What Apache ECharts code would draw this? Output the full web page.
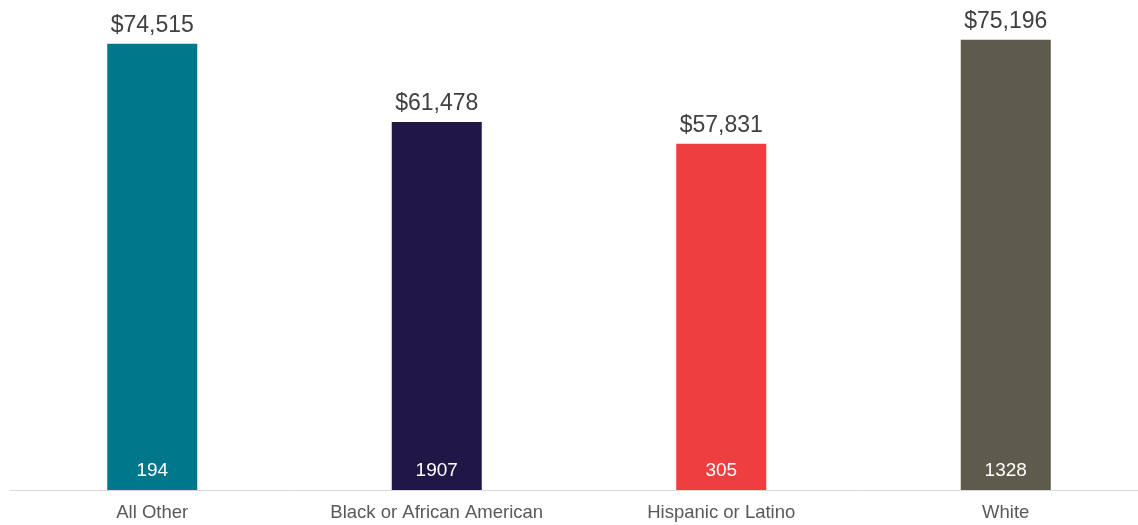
<!DOCTYPE html>
<html>
<head>
<meta charset="utf-8">
<script src="https://cdn.jsdelivr.net/npm/echarts@6/dist/echarts.min.js"></script>
<style>
  html, body { margin: 0; padding: 0; background: #ffffff; overflow: hidden; }
  /* the drawing surface is a little wider than the window; its right edge is clipped */
  #chart { width: 1148px; height: 525px; }
</style>
</head>
<body>
<div id="chart"></div>
<script>
// Median salary by group, with headcount shown at the foot of each bar
const categories = ['All Other', 'Black or African American', 'Hispanic or Latino', 'White'];
const salaries = [74515, 61478, 57831, 75196];
const headcounts = [194, 1907, 305, 1328];
const barColors = ['#00778b', '#211747', '#ef3e40', '#5e5a4c'];

const FONT = '"Liberation Sans", Arial, sans-serif';

function money(v) {
  return '$' + String(v).replace(/\B(?=(\d{3})+(?!\d))/g, ',');
}

const chart = echarts.init(document.getElementById('chart'), null, { renderer: 'canvas' });

chart.setOption({
  animation: false,
  backgroundColor: '#ffffff',
  textStyle: { fontFamily: FONT },
  grid: { left: 10, right: 0, top: 11, bottom: 35, containLabel: false },
  xAxis: {
    type: 'category',
    data: categories,
    axisLine: { show: true, lineStyle: { color: '#d9d9d9', width: 1 } },
    axisTick: { show: false },
    axisLabel: { color: '#595959', fontSize: 18.5, fontFamily: FONT, margin: 13 },
    splitLine: { show: false }
  },
  yAxis: {
    type: 'value',
    min: 0,
    max: 80000,
    show: false,
    splitLine: { show: false }
  },
  series: [
    {
      type: 'bar',
      barWidth: 90,
      data: salaries.map((v, i) => ({ value: v, itemStyle: { color: barColors[i] } })),
      label: {
        show: true,
        position: 'top',
        distance: 7,
        color: '#404040',
        fontSize: 23,
        fontFamily: FONT,
        formatter: p => money(p.value)
      }
    },
    {
      type: 'bar',
      barWidth: 90,
      barGap: '-100%',
      silent: true,
      itemStyle: { color: 'rgba(0,0,0,0)' },
      data: salaries,
      label: {
        show: true,
        position: 'insideBottom',
        distance: 10,
        color: '#ffffff',
        fontSize: 19,
        fontFamily: FONT,
        formatter: p => String(headcounts[p.dataIndex])
      },
      z: 3
    }
  ]
});
</script>
</body>
</html>
